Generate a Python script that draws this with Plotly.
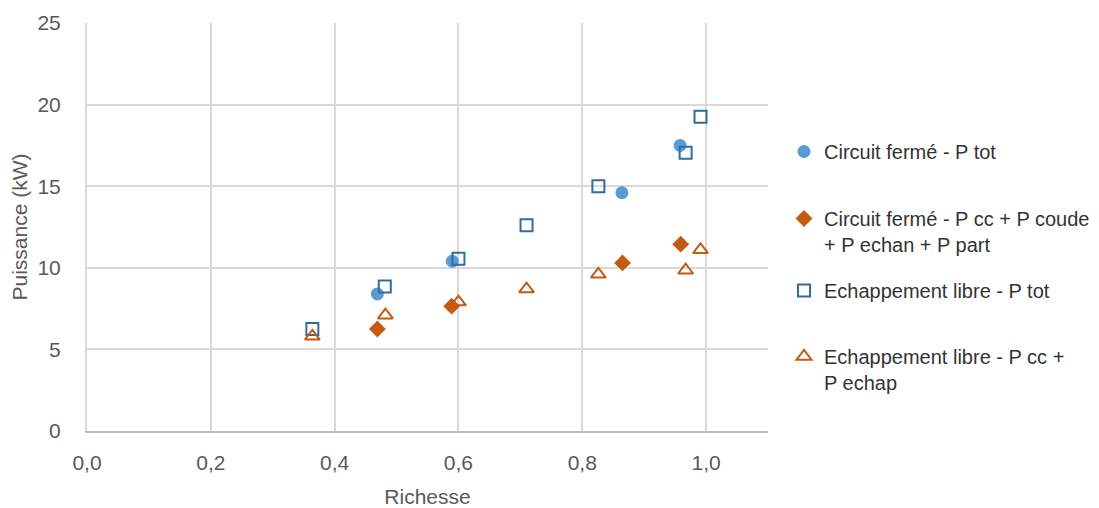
import plotly.graph_objects as go

# Data
cf_tot_x = [0.469, 0.590, 0.864, 0.958]
cf_tot_y = [8.4, 10.4, 14.6, 17.5]

cf_part_x = [0.469, 0.589, 0.865, 0.959]
cf_part_y = [6.25, 7.65, 10.3, 11.45]

el_tot_x = [0.364, 0.481, 0.600, 0.710, 0.826, 0.967, 0.991]
el_tot_y = [6.25, 8.85, 10.55, 12.6, 15.0, 17.05, 19.25]

el_part_x = [0.364, 0.482, 0.600, 0.710, 0.826, 0.967, 0.991]
el_part_y = [5.8, 7.1, 7.9, 8.7, 9.6, 9.85, 11.1]

names = [
    "Circuit fermé - P tot",
    "Circuit fermé - P cc + P coude<br>+ P echan + P part",
    "Echappement libre - P tot",
    "Echappement libre - P cc +<br>P echap",
]

x_ticks = [0.0, 0.2, 0.4, 0.6, 0.8, 1.0]
x_labels = ["0,0", "0,2", "0,4", "0,6", "0,8", "1,0"]
y_ticks = [0, 5, 10, 15, 20, 25]

BLUE = "#5B9BD5"
DBLUE = "#2E6DA4"
ORANGE = "#C55A11"
FONT = "Liberation Sans"
TXT = "#595959"

fig = go.Figure()
fig.add_trace(go.Scatter(x=cf_tot_x, y=cf_tot_y, mode="markers", name=names[0],
                         marker=dict(symbol="circle", size=13, color=BLUE), legend="legend"))
fig.add_trace(go.Scatter(x=cf_part_x, y=cf_part_y, mode="markers", name=names[1],
                         marker=dict(symbol="diamond", size=13, color=ORANGE), legend="legend2"))
fig.add_trace(go.Scatter(x=el_tot_x, y=el_tot_y, mode="markers", name=names[2],
                         marker=dict(symbol="square-open", size=12, color=DBLUE,
                                     line=dict(width=2, color=DBLUE)), legend="legend3"))
fig.add_trace(go.Scatter(x=el_part_x, y=el_part_y, mode="markers", name=names[3],
                         marker=dict(symbol="triangle-up-open", size=13, color=ORANGE,
                                     line=dict(width=2, color=ORANGE)), legend="legend4"))

W, H = 1099, 508
OFF = 8  # page body offset
ml, mr, mt, mb = 87 - OFF, 331 + OFF, 23 - OFF, 77 + OFF


def leg(ytop_abs):
    return dict(x=(784 - OFF) / W, xref="container", xanchor="left",
                y=1 - (ytop_abs - OFF) / H, yref="container", yanchor="top",
                font=dict(family=FONT, size=20, color="#333333"),
                bgcolor="rgba(0,0,0,0)", valign="top",
                itemwidth=30, tracegroupgap=0)


fig.update_layout(
    width=W, height=H,
    margin=dict(l=ml, r=mr, t=mt, b=mb, autoexpand=False),
    paper_bgcolor="white", plot_bgcolor="white",
    font=dict(family=FONT, size=21, color=TXT),
    showlegend=True,
    legend=leg(132),
    legend2=leg(199),
    legend3=leg(271),
    legend4=leg(337),
    xaxis=dict(range=[0, 1.1], tickvals=x_ticks, ticktext=x_labels,
               showgrid=True, gridcolor="#D9D9D9", gridwidth=2,
               zeroline=False, showline=True, linecolor="#BFBFBF", linewidth=2,
               ticks="", ticklabelstandoff=12, automargin=False,
               tickfont=dict(family=FONT, size=21, color=TXT),
               title=dict(text="Richesse", font=dict(family=FONT, size=21, color=TXT), standoff=16)),
    yaxis=dict(range=[0, 25], tickvals=y_ticks,
               showgrid=True, gridcolor="#D9D9D9", gridwidth=2,
               zeroline=False, showline=True, linecolor="#D9D9D9", linewidth=2,
               ticks="", ticklabelstandoff=20, automargin=False,
               tickfont=dict(family=FONT, size=21, color=TXT),
               title=dict(text="Puissance (kW)", font=dict(family=FONT, size=21, color=TXT), standoff=6)),
)

fig.write_html("out.html")
